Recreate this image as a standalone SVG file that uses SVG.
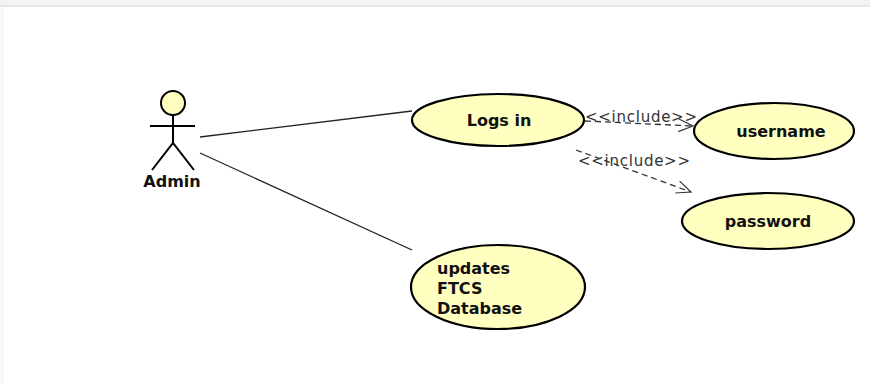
<svg xmlns="http://www.w3.org/2000/svg" width="870" height="383" viewBox="0 0 870 383">
<style>
.uc{fill:#ffffc0;stroke:#000;stroke-width:2.2}
.t{font-family:"DejaVu Sans",Verdana,sans-serif;font-weight:bold;font-size:16px;fill:#111}
.lbl{font-family:"DejaVu Sans",Verdana,sans-serif;font-size:15px;fill:#333}
.assoc{stroke:#222;stroke-width:1.3;fill:none}
.dep{stroke:#333;stroke-width:1.3;fill:none;stroke-dasharray:6,4}
</style>
<defs>
<marker id="open" viewBox="0 0 20 20" refX="18" refY="10" markerWidth="18" markerHeight="18" markerUnits="userSpaceOnUse" orient="auto">
<path d="M2,3 L18,10 L2,17" fill="none" stroke="#333" stroke-width="1.3"/>
</marker>
</defs>
<rect width="870" height="383" fill="#fff"/>
<rect width="870" height="5" fill="#f3f3f3"/>
<rect y="5" width="870" height="2" fill="#e7e7e7"/>
<rect y="7" width="4" height="376" fill="#f7f7f7"/>
<g id="connectors">
<line class="assoc" x1="200" y1="137" x2="412" y2="111"/>
<line class="assoc" x1="200" y1="153" x2="412" y2="250"/>
<line class="dep" x1="585" y1="121" x2="693" y2="126" marker-end="url(#open)"/>
<text class="lbl" x="585" y="122" textLength="112" lengthAdjust="spacing">&lt;&lt;include&gt;&gt;</text>
<line class="dep" x1="576" y1="150" x2="691" y2="192" marker-end="url(#open)"/>
<text class="lbl" x="578" y="166" textLength="112" lengthAdjust="spacing">&lt;&lt;include&gt;&gt;</text>
</g>
<g id="admin">
<circle cx="173" cy="103" r="12" fill="#ffffc0" stroke="#000" stroke-width="2"/>
<line x1="173" y1="115" x2="173" y2="143" stroke="#000" stroke-width="2"/>
<line x1="150" y1="126" x2="195" y2="126" stroke="#000" stroke-width="2"/>
<path d="M152,170 L173,143 L194,170" fill="none" stroke="#000" stroke-width="2"/>
<text class="t" x="172" y="187" text-anchor="middle">Admin</text>
</g>
<g id="logsin">
<ellipse class="uc" cx="498" cy="120" rx="86" ry="26"/>
<text class="t" x="499" y="126" text-anchor="middle">Logs in</text>
</g>
<g id="username">
<ellipse class="uc" cx="774" cy="131" rx="80" ry="28"/>
<text class="t" x="781" y="137" text-anchor="middle">username</text>
</g>
<g id="password">
<ellipse class="uc" cx="768" cy="221" rx="86" ry="28"/>
<text class="t" x="768" y="227" text-anchor="middle">password</text>
</g>
<g id="updates">
<ellipse class="uc" cx="498" cy="287" rx="87" ry="42"/>
<text class="t" x="437" y="274">updates</text>
<text class="t" x="437" y="294">FTCS</text>
<text class="t" x="437" y="314">Database</text>
</g>
</svg>
